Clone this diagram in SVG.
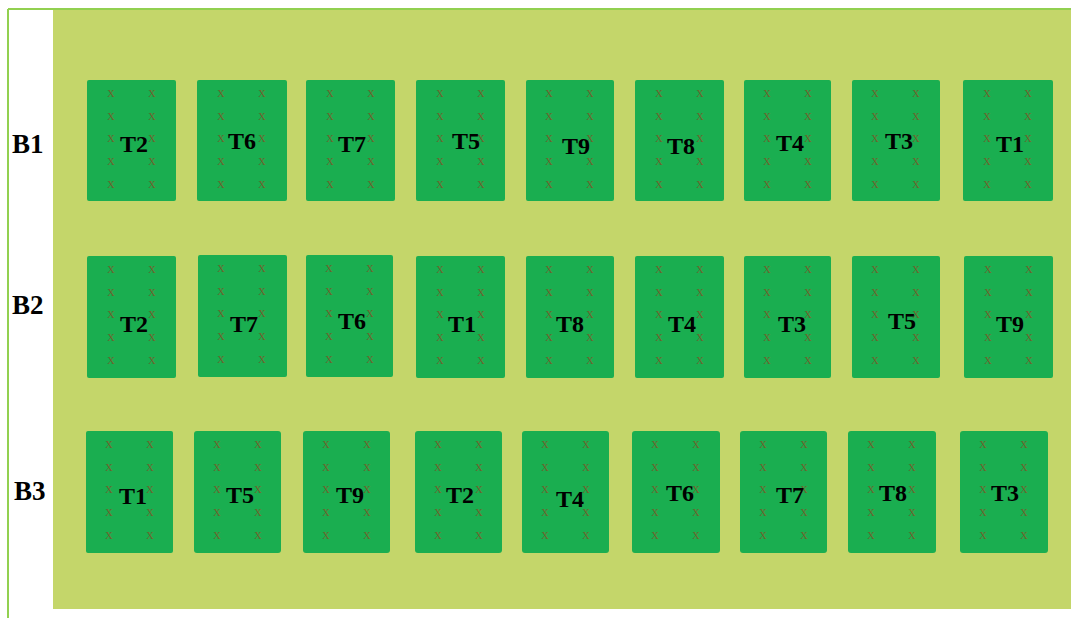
<svg xmlns="http://www.w3.org/2000/svg" xmlns:xlink="http://www.w3.org/1999/xlink" width="1078" height="618" viewBox="0 0 1078 618">
<style>
.plot{fill:#1aae50;}
.t{font-family:"Liberation Serif",serif;font-weight:bold;font-size:24px;fill:#000;text-anchor:middle;}
.b{font-family:"Liberation Serif",serif;font-weight:bold;font-size:27px;fill:#000;}
.x{font-family:"Liberation Serif",serif;font-size:15px;fill:#73602c;fill-opacity:0.9;text-anchor:middle;}
</style>
<defs>
<g id="xs">
<text class="x" x="0" y="17">x</text><text class="x" x="41" y="17">x</text>
<text class="x" x="0" y="40">x</text><text class="x" x="41" y="40">x</text>
<text class="x" x="0" y="62">x</text><text class="x" x="41" y="62">x</text>
<text class="x" x="0" y="85">x</text><text class="x" x="41" y="85">x</text>
<text class="x" x="0" y="108">x</text><text class="x" x="41" y="108">x</text>
</g>
</defs>
<rect x="0" y="0" width="1078" height="618" fill="#ffffff"/>
<rect x="53" y="9" width="1018" height="600" fill="#c4d66a"/>
<line x1="8" y1="9" x2="1071" y2="9" stroke="#92d050" stroke-width="2"/>
<line x1="8" y1="9" x2="8" y2="618" stroke="#92d050" stroke-width="2"/>
<g id="blocks">
<text class="b" x="12" y="153">B1</text>
<text class="b" x="12" y="314">B2</text>
<text class="b" x="14" y="500">B3</text>
</g>
<g id="row1">
<g id="r1-T2"><rect class="plot" x="87" y="80" width="89" height="121" rx="2"/><use xlink:href="#xs" x="111" y="80"/><text class="t" x="134" y="152">T2</text></g>
<g id="r1-T6"><rect class="plot" x="197" y="80" width="90" height="121" rx="2"/><use xlink:href="#xs" x="221" y="80"/><text class="t" x="242" y="149">T6</text></g>
<g id="r1-T7"><rect class="plot" x="306" y="80" width="89" height="121" rx="2"/><use xlink:href="#xs" x="330" y="80"/><text class="t" x="352" y="152">T7</text></g>
<g id="r1-T5"><rect class="plot" x="416" y="80" width="89" height="121" rx="2"/><use xlink:href="#xs" x="440" y="80"/><text class="t" x="466" y="149">T5</text></g>
<g id="r1-T9"><rect class="plot" x="526" y="80" width="88" height="121" rx="2"/><use xlink:href="#xs" x="549" y="80"/><text class="t" x="576" y="154">T9</text></g>
<g id="r1-T8"><rect class="plot" x="635" y="80" width="89" height="121" rx="2"/><use xlink:href="#xs" x="659" y="80"/><text class="t" x="681" y="154">T8</text></g>
<g id="r1-T4"><rect class="plot" x="744" y="80" width="87" height="121" rx="2"/><use xlink:href="#xs" x="767" y="80"/><text class="t" x="790" y="151">T4</text></g>
<g id="r1-T3"><rect class="plot" x="852" y="80" width="88" height="121" rx="2"/><use xlink:href="#xs" x="875" y="80"/><text class="t" x="899" y="149">T3</text></g>
<g id="r1-T1"><rect class="plot" x="963" y="80" width="90" height="121" rx="2"/><use xlink:href="#xs" x="987" y="80"/><text class="t" x="1010" y="152">T1</text></g>
</g>
<g id="row2">
<g id="r2-T2"><rect class="plot" x="87" y="256" width="89" height="122" rx="2"/><use xlink:href="#xs" x="111" y="256"/><text class="t" x="134" y="332">T2</text></g>
<g id="r2-T7"><rect class="plot" x="198" y="255" width="89" height="122" rx="2"/><use xlink:href="#xs" x="221" y="255"/><text class="t" x="244" y="332">T7</text></g>
<g id="r2-T6"><rect class="plot" x="306" y="255" width="87" height="122" rx="2"/><use xlink:href="#xs" x="329" y="255"/><text class="t" x="352" y="329">T6</text></g>
<g id="r2-T1"><rect class="plot" x="416" y="256" width="89" height="122" rx="2"/><use xlink:href="#xs" x="440" y="256"/><text class="t" x="462" y="332">T1</text></g>
<g id="r2-T8"><rect class="plot" x="526" y="256" width="88" height="122" rx="2"/><use xlink:href="#xs" x="549" y="256"/><text class="t" x="570" y="332">T8</text></g>
<g id="r2-T4"><rect class="plot" x="635" y="256" width="89" height="122" rx="2"/><use xlink:href="#xs" x="659" y="256"/><text class="t" x="682" y="332">T4</text></g>
<g id="r2-T3"><rect class="plot" x="744" y="256" width="87" height="122" rx="2"/><use xlink:href="#xs" x="767" y="256"/><text class="t" x="792" y="332">T3</text></g>
<g id="r2-T5"><rect class="plot" x="852" y="256" width="88" height="122" rx="2"/><use xlink:href="#xs" x="875" y="256"/><text class="t" x="902" y="329">T5</text></g>
<g id="r2-T9"><rect class="plot" x="964" y="256" width="89" height="122" rx="2"/><use xlink:href="#xs" x="988" y="256"/><text class="t" x="1010" y="332">T9</text></g>
</g>
<g id="row3">
<g id="r3-T1"><rect class="plot" x="86" y="431" width="87" height="122" rx="2"/><use xlink:href="#xs" x="109" y="431"/><text class="t" x="133" y="504">T1</text></g>
<g id="r3-T5"><rect class="plot" x="194" y="431" width="87" height="122" rx="3"/><use xlink:href="#xs" x="217" y="431"/><text class="t" x="240" y="503">T5</text></g>
<g id="r3-T9"><rect class="plot" x="303" y="431" width="87" height="122" rx="3"/><use xlink:href="#xs" x="326" y="431"/><text class="t" x="350" y="503">T9</text></g>
<g id="r3-T2"><rect class="plot" x="415" y="431" width="87" height="122" rx="3"/><use xlink:href="#xs" x="438" y="431"/><text class="t" x="460" y="503">T2</text></g>
<g id="r3-T4"><rect class="plot" x="522" y="431" width="87" height="122" rx="3"/><use xlink:href="#xs" x="545" y="431"/><text class="t" x="570" y="507">T4</text></g>
<g id="r3-T6"><rect class="plot" x="632" y="431" width="88" height="122" rx="3"/><use xlink:href="#xs" x="655" y="431"/><text class="t" x="680" y="501">T6</text></g>
<g id="r3-T7"><rect class="plot" x="740" y="431" width="87" height="122" rx="3"/><use xlink:href="#xs" x="763" y="431"/><text class="t" x="790" y="503">T7</text></g>
<g id="r3-T8"><rect class="plot" x="848" y="431" width="88" height="122" rx="3"/><use xlink:href="#xs" x="871" y="431"/><text class="t" x="893" y="501">T8</text></g>
<g id="r3-T3"><rect class="plot" x="960" y="431" width="88" height="122" rx="3"/><use xlink:href="#xs" x="983" y="431"/><text class="t" x="1005" y="501">T3</text></g>
</g>
</svg>
